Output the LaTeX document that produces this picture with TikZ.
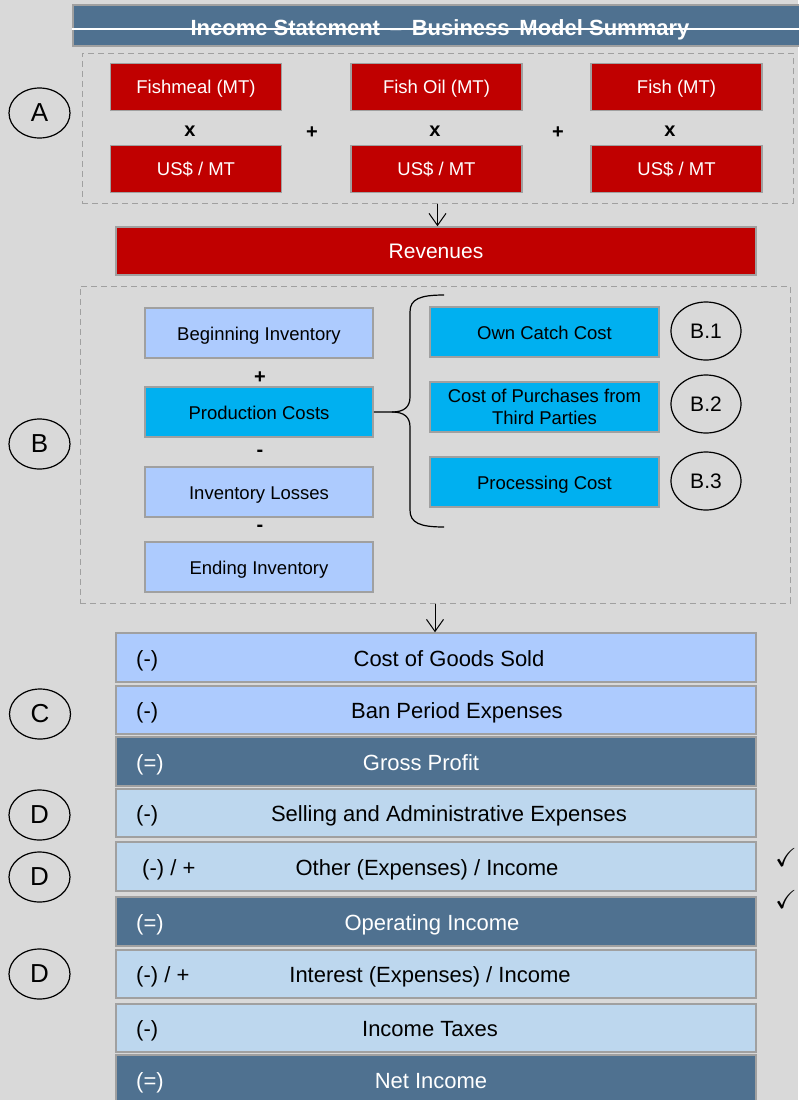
\documentclass[tikz,border=0pt]{standalone}
\usepackage{amssymb}
\usepackage{fontspec}
\setmainfont{Liberation Sans}
\usetikzlibrary{arrows.meta,shapes.geometric}
\definecolor{bggray}{HTML}{D9D9D9}
\definecolor{steel}{HTML}{4F7190}
\definecolor{revred}{HTML}{C00000}
\definecolor{periwinkle}{HTML}{ADCBFE}
\definecolor{cyanbox}{HTML}{00B0F0}
\definecolor{paleblue}{HTML}{BDD7EE}
\definecolor{boxline}{HTML}{A0A0A0}
\tikzset{
  box/.style={draw=boxline, line width=1.5pt, inner sep=0pt},
  redbox/.style={box, fill=revred, text=white, font=\fontsize{18.5}{22}\selectfont, text height=13pt, text depth=0pt, minimum width=171pt, minimum height=47pt},
  invbox/.style={box, fill=periwinkle, font=\fontsize{18.5}{22}\selectfont, text height=14pt, text depth=0pt, minimum width=228pt, minimum height=50pt},
  prodbox/.style={invbox, fill=cyanbox},
  costbox/.style={invbox, fill=cyanbox, minimum width=229pt, align=center},
  rowbox/.style={box, minimum width=640pt},
  lightrow/.style={rowbox, fill=periwinkle},
  palerow/.style={rowbox, fill=paleblue},
  darkrow/.style={rowbox, fill=steel},
  rowtext/.style={font=\fontsize{22}{26}\selectfont, inner sep=0pt, anchor=base, yshift=-8.5pt},
  signtext/.style={rowtext, anchor=base west},
  optext/.style={font=\bfseries\fontsize{20}{22}\selectfont, inner sep=0pt},
  tag/.style={ellipse, draw, line width=1.2pt, minimum width=61pt, minimum height=50pt, inner sep=0pt, font=\fontsize{26}{30}\selectfont},
  subtag/.style={tag, minimum width=70pt, minimum height=58pt, font=\fontsize{21}{24}\selectfont},
  dashbox/.style={draw=boxline, line width=1pt, dash pattern=on 6pt off 4pt, inner sep=0pt},
  arr/.style={line width=1pt, -{Straight Barb[length=12pt,width=17pt]}},
  bracket/.style={line width=1.2pt},
  tick/.style={font=\fontsize{26}{28}\selectfont, anchor=west, inner sep=0pt}
}

\begin{document}
\begin{tikzpicture}[x=1pt,y=-1pt]
% background and page size
\fill[bggray] (0,0) rectangle (798,1100);
\useasboundingbox (0,0) rectangle (798,1100);

% title
\node[box, fill=steel, minimum width=737pt, minimum height=41pt] (title) at (441.5,25.5) {};
\node[text=white, font=\bfseries\fontsize{22}{24}\selectfont, inner sep=0pt, anchor=base] (titletext) at (440,35) {Income Statement \,–\, Business \,Model Summary};
\draw[white, line width=1.2pt] ([yshift=-3.5pt]title.west) -- ([yshift=-3.5pt]title.east);

% A: revenue drivers
\node[dashbox, minimum width=711pt, minimum height=150pt] (boxA) at (437.5,128) {};
\node[redbox] (fishmeal) at (196,87) {Fishmeal (MT)};
\node[redbox] (fishoil) at (436.5,87) {Fish Oil (MT)};
\node[redbox] (fish) at (676.5,87) {Fish (MT)};
\node[redbox] (price1) at (196,169) {US\$ / MT};
\node[redbox] (price2) at (436.5,169) {US\$ / MT};
\node[redbox] (price3) at (676.5,169) {US\$ / MT};
\node[optext] (times1) at (190,131) {x};
\node[optext] (times2) at (435,131) {x};
\node[optext] (times3) at (670,131) {x};
\node[optext] (plus1) at (312,133) {+};
\node[optext] (plus2) at (558,133) {+};
\node[tag] (tagA) at (39.5,113) {A};

\node[box, fill=revred, text=white, font=\fontsize{21}{24}\selectfont, text height=15pt, text depth=0pt, minimum width=640pt, minimum height=48pt] (revenues) at (436,251) {Revenues};
\draw[arr] (boxA.south) -- (boxA.south |- revenues.north);

% B: cost of goods sold
\node[dashbox, minimum width=710pt, minimum height=317pt] (boxB) at (435,444.5) {};
\node[invbox] (beginv) at (259,333) {Beginning Inventory};
\node[prodbox] (prod) at (259,412) {Production Costs};
\node[invbox] (losses) at (259,492) {Inventory Losses};
\node[invbox] (endinv) at (259,567) {Ending Inventory};
\node[optext] (opplus) at (260,378) {+};
\node[optext] (opminus1) at (260,453) {-};
\node[optext] (opminus2) at (260,528) {-};

\node[costbox] (owncatch) at (544.5,332) {Own Catch Cost};
\node[costbox, text height=, text depth=] (purchases) at (544.5,407) {Cost of Purchases from\\Third Parties};
\node[costbox] (processing) at (544.5,482) {Processing Cost};
\node[subtag] (tagB1) at (706,331) {B.1};
\node[subtag] (tagB2) at (706,404) {B.2};
\node[subtag] (tagB3) at (706,481) {B.3};
\node[tag] (tagB) at (39.5,444) {B};

\coordinate (bracetop) at (444,295);
\coordinate (bracebot) at (444,527);
\draw[bracket] (prod.east) -- (392,412) .. controls (404,412) and (410,407) .. (410,397) -- (410,312) .. controls (410,299) and (420,295) .. (bracetop);
\draw[bracket] (392,412) .. controls (404,412) and (410,417) .. (410,427) -- (410,510) .. controls (410,523) and (420,527) .. (bracebot);

\node[lightrow, minimum height=49pt] (cogs) at (436,657.5) {};
\draw[arr] (boxB.south) -- (boxB.south |- cogs.north);

% C and D: statement rows
\node[rowtext] (cogstext) at (449,657.5) {Cost of Goods Sold};
\node[signtext] (cogssign) at (136,657.5) {(-)};

\node[lightrow, minimum height=48pt] (ban) at (436,710) {};
\node[rowtext] (bantext) at (457,710) {Ban Period Expenses};
\node[signtext] (bansign) at (136,710) {(-)};

\node[darkrow, minimum height=49pt] (gross) at (436,761.5) {};
\node[rowtext, text=white] (grosstext) at (421,761.5) {Gross Profit};
\node[signtext, text=white] (grosssign) at (136,761.5) {(=)};

\node[palerow, minimum height=48pt] (selling) at (436,813) {};
\node[rowtext] (sellingtext) at (449,813) {Selling and Administrative Expenses};
\node[signtext] (sellingsign) at (136,813) {(-)};

\node[palerow, minimum height=49pt] (other) at (436,866.5) {};
\node[rowtext] (othertext) at (427,866.5) {Other (Expenses) / Income};
\node[signtext] (othersign) at (142,866.5) {(-) / +};

\node[darkrow, minimum height=49pt] (operating) at (436,921.5) {};
\node[rowtext, text=white] (operatingtext) at (432,921.5) {Operating Income};
\node[signtext, text=white] (operatingsign) at (136,921.5) {(=)};

\node[palerow, minimum height=48pt] (interest) at (436,974) {};
\node[rowtext] (interesttext) at (430,974) {Interest (Expenses) / Income};
\node[signtext] (interestsign) at (136,974) {(-) / +};

\node[palerow, minimum height=48pt] (taxes) at (436,1028) {};
\node[rowtext] (taxestext) at (430,1028) {Income Taxes};
\node[signtext] (taxessign) at (136,1028) {(-)};

\node[darkrow, minimum height=49pt] (netincome) at (436,1079.5) {};
\node[rowtext, text=white] (netincometext) at (431,1079.5) {Net Income};
\node[signtext, text=white] (netincomesign) at (136,1079.5) {(=)};

\node[tag] (tagC) at (40,714) {C};
\node[tag] (tagD1) at (39.5,815) {D};
\node[tag] (tagD2) at (39.5,877) {D};
\node[tag] (tagD3) at (39.5,974) {D};

\node[tick] (tick1) at (775,857) {$\checkmark$};
\node[tick] (tick2) at (775,899) {$\checkmark$};
\end{tikzpicture}
\end{document}
